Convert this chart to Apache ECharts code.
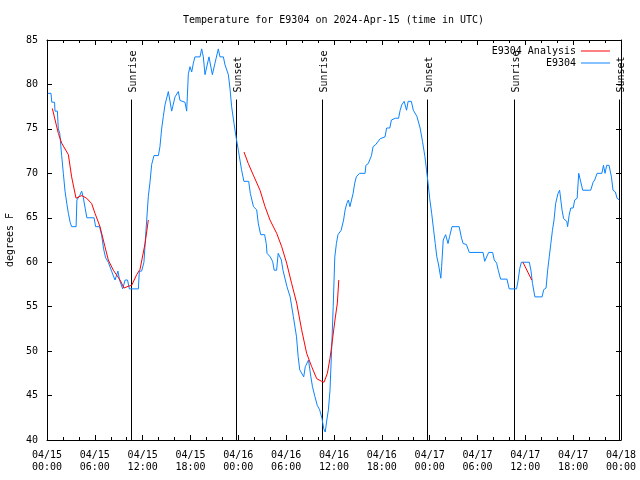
<!DOCTYPE html>
<html><head><meta charset="utf-8">
<script src="https://cdn.jsdelivr.net/npm/echarts@6/dist/echarts.min.js"></script>
<style>html,body{margin:0;padding:0;background:#fff}#c{width:640px;height:480px}</style>
</head><body><div id="c"></div>
<script>
// ---- data (hours since 2024-04-15 00:00 UTC) ----
const titleText = 'Temperature for E9304 on 2024-Apr-15 (time in UTC)';
const yName = 'degrees F';
const obsName = 'E9304';
const anaName = 'E9304 Analysis';

const obsHours = [0.1,0.5,0.6,0.95,1.0,1.3,1.42,1.6,1.84,2.05,2.26,2.5,2.68,2.9,3.09,3.65,3.75,4.1,4.35,4.55,4.8,5.0,5.9,6.1,6.6,6.86,7.1,7.35,7.69,8.1,8.53,8.9,9.1,9.49,9.8,10.1,10.33,11.46,11.58,11.87,12.16,12.42,12.71,12.92,13.13,13.42,13.97,14.17,14.38,14.59,14.8,15.22,15.64,16.06,16.47,16.68,17.31,17.52,17.73,17.94,18.15,18.36,18.56,19.19,19.4,19.61,19.82,20.03,20.32,20.53,20.74,21.07,21.49,21.7,22.12,22.33,22.75,22.96,23.16,23.46,23.71,24.0,24.2,24.4,24.7,25.3,25.5,25.9,26.3,26.5,26.8,27.3,27.5,27.6,28.0,28.3,28.5,28.8,29.0,29.4,29.6,30.1,30.5,30.9,31.3,31.5,31.7,32.2,32.4,32.8,33.1,33.3,33.6,33.9,34.2,34.5,34.7,34.9,35.1,35.3,35.5,35.7,35.9,36.1,36.3,36.5,36.9,37.2,37.4,37.6,37.8,38.0,38.2,38.4,38.6,38.8,39.2,39.9,40.0,40.3,40.7,40.85,40.9,41.2,41.8,42.0,42.4,42.6,43.0,43.2,43.7,44.1,44.3,44.5,44.8,45.1,45.3,45.7,45.95,46.4,46.8,47.1,47.4,47.6,47.8,48.0,48.25,48.5,48.7,48.9,49.1,49.4,49.5,49.7,50.0,50.3,50.5,50.8,51.7,52.0,52.2,52.6,52.97,54.7,54.9,55.15,55.4,55.9,56.1,56.4,56.6,56.85,56.9,57.7,57.97,58.9,59.1,59.3,59.5,60.5,60.7,60.9,61.2,62.1,62.3,62.6,62.8,63.0,63.2,63.4,63.6,63.8,64.1,64.3,64.45,64.6,64.8,65.2,65.3,65.5,65.7,66.0,66.2,66.5,66.7,66.95,67.2,68.2,68.5,68.7,69.0,69.6,69.8,70.0,70.2,70.5,70.8,71.0,71.3,71.5,71.8];
const obsTemps = [79,79,78,78,77,77,75,74.5,72,70,68,66.5,65.5,64.5,64,64,67,67.5,68,67.3,66,65,65,64,64,63,61.5,60.5,60,59,58,59,58,57,58,58,57,57,59,59,60,63.6,67.4,69,71,72,72,73,75,76.4,77.7,79.2,77,78.6,79.2,78.2,78,77,81.2,82,81.4,82.4,83.1,83.1,84,83.1,81.1,81.1,83.1,83.1,81.1,82.4,84,83.1,83.1,82.2,81.1,79.5,77.5,75.6,74.1,72.6,71.5,70.4,69.1,69.1,67.75,66.25,65.9,64.4,63.1,63.1,62.1,61,60.6,60.1,59.1,59.1,61,60.25,59.1,57.25,56.1,53.9,51.6,49.4,47.9,47.1,48.25,49,47.1,46,44.9,43.9,43.4,42.4,41.3,40.9,42.25,43.4,45.6,50.1,55,60.6,62.1,63.1,63.6,64.75,65.9,66.6,67,66.25,67,67.75,68.9,69.6,70,70,70.9,71.1,72,72,73,73.2,73.9,74.1,74.1,75.1,75.1,76,76.2,76.2,77.1,77.7,78.1,77.1,78.1,78.1,77.1,76.4,75.1,73.6,71.9,70.4,68.9,67.2,65.5,63.6,62.1,60.6,59.8,58.2,59.5,62.5,63.1,62.1,62.9,64,64,62.7,62.1,62,61.1,61.1,60.1,60.1,61.1,61.1,60.25,59.9,59.1,59.1,58.1,58.1,57,57,58,59.3,60,60,59.1,57.6,56.1,56.1,56.9,57.1,59.1,60.6,62.1,63.6,64.75,66.6,67.75,68.1,68.1,65.9,64.9,64.6,64,65.3,66.1,66.1,67,67.2,70,70,68.1,68.1,69,69.25,70,70,70.9,70,70.9,70.9,69.6,68.1,67.9,67.2,67];

const anaHours = [0.67,1.42,1.84,2.68,3.09,3.64,4.35,4.97,5.6,6.02,6.65,7.27,7.69,8.32,9.16,9.66,10.2,10.62,11.25,11.67,12.3,12.71,18,24.71,25.25,25.88,26.72,27.35,27.97,28.81,29.44,30.06,30.69,31.32,31.94,32.57,33.2,33.83,34.45,34.75,35.17,35.5,35.7,36.12,36.42,36.6,48,59.7,60.8];
const anaTemps = [77.3,74.5,73.4,72.1,69.6,67.2,67.5,67.2,66.6,65.5,64,61.75,60.25,59.1,58,57.1,57.3,57.4,58.6,59.2,62.1,64.75,null,72.4,71.1,69.8,68.1,66.25,64.75,63.25,61.75,59.9,57.6,55.4,52.4,49.75,48.25,46.9,46.6,46.5,47.5,49.2,50.5,53.5,55.4,58,null,60,58];

const eventHours = [10.54,23.71,34.54,47.71,58.6,71.76];
const eventLabels = ['Sunrise','Sunset','Sunrise','Sunset','Sunrise','Sunset'];
const eventTop = 78.3;

const xMin = 0, xMax = 72, xStep = 6;
const yMin = 40, yMax = 85, yStep = 5;
const startDay = 15;

// ---- chart ----
const FONT = 'DejaVu Sans Mono';
const BLUE = '#0a84ff', RED = '#ff0000';
const zip = (a,b) => a.map((v,i)=>[v,b[i]]);
function xLabel(v){
  const d = startDay + Math.floor(v/24);
  const h = Math.round(v%24);
  return '04/' + String(d).padStart(2,'0') + '\n' + String(h).padStart(2,'0') + ':00';
}
const axisCommon = {
  axisLine:{show:true,onZero:false,lineStyle:{color:'#000',width:1}},
  splitLine:{show:false}
};
const legendCommon = {orient:'vertical',align:'right',right:30,padding:0,icon:'rect',itemWidth:29,itemHeight:1,
  textStyle:{fontFamily:FONT,fontSize:10,color:'#000'}};
const chart = echarts.init(document.getElementById('c'), null, {renderer:'canvas'});
chart.setOption({
  animation:false,
  backgroundColor:'#fff',
  textStyle:{fontFamily:FONT},
  title:{text:titleText,left:183,top:15,padding:0,textStyle:{fontFamily:FONT,fontSize:10,fontWeight:'normal',color:'#000'}},
  legend:[
    Object.assign({data:[anaName],top:46},legendCommon),
    Object.assign({data:[obsName],top:58},legendCommon)
  ],
  grid:{left:47,right:19,top:40,bottom:40,containLabel:false,outerBoundsMode:'none'},
  xAxis:[
    Object.assign({type:'value',min:xMin,max:xMax,interval:xStep,position:'bottom',
      axisTick:{show:true,inside:true,length:5,lineStyle:{color:'#000'}},
      minorTick:{show:true,splitNumber:3,length:3,lineStyle:{color:'#000'}},
      axisLabel:{formatter:xLabel,color:'#000',fontFamily:FONT,fontSize:10,lineHeight:12,margin:9}},axisCommon),
    Object.assign({type:'value',min:xMin,max:xMax,interval:xStep,position:'top',
      axisTick:{show:true,inside:true,length:5,lineStyle:{color:'#000'}},
      minorTick:{show:true,splitNumber:3,length:3,lineStyle:{color:'#000'}},
      axisLabel:{show:false}},axisCommon)
  ],
  yAxis:[
    Object.assign({type:'value',min:yMin,max:yMax,interval:yStep,position:'left',
      name:yName,nameLocation:'middle',nameGap:32,nameRotate:90,
      nameTextStyle:{fontFamily:FONT,fontSize:10,color:'#000'},
      axisTick:{show:true,inside:true,length:5,lineStyle:{color:'#000'}},
      axisLabel:{color:'#000',fontFamily:FONT,fontSize:10,margin:9}},axisCommon),
    Object.assign({type:'value',min:yMin,max:yMax,interval:yStep,position:'right',
      axisTick:{show:true,inside:true,length:5,lineStyle:{color:'#000'}},
      axisLabel:{show:false}},axisCommon)
  ],
  series:[
    {type:'custom',name:'events',xAxisIndex:0,yAxisIndex:0,silent:true,
     data:eventHours.map((h,i)=>[h,i]),
     renderItem:function(params,api){
       const h = api.value(0);
       const lab = eventLabels[api.value(1)];
       const b = api.coord([h,yMin]);
       const t = api.coord([h,eventTop]);
       const x = Math.round(b[0])+0.5;
       return {type:'group',children:[
         {type:'line',shape:{x1:x,y1:b[1],x2:x,y2:t[1]},style:{stroke:'#000',lineWidth:1}},
         {type:'text',x:x+1.5,y:t[1]-7,rotation:Math.PI/2,
          style:{text:lab,font:'10px '+FONT,fill:'#000',align:'left',verticalAlign:'middle'}}
       ]};
     }},
    {type:'line',name:obsName,data:zip(obsHours,obsTemps),showSymbol:false,symbol:'none',
     lineStyle:{color:BLUE,width:1},itemStyle:{color:BLUE},z:3},
    {type:'line',name:anaName,data:zip(anaHours,anaTemps),showSymbol:false,symbol:'none',connectNulls:false,
     lineStyle:{color:RED,width:1},itemStyle:{color:RED},z:4}
  ]
});
</script></body></html>
